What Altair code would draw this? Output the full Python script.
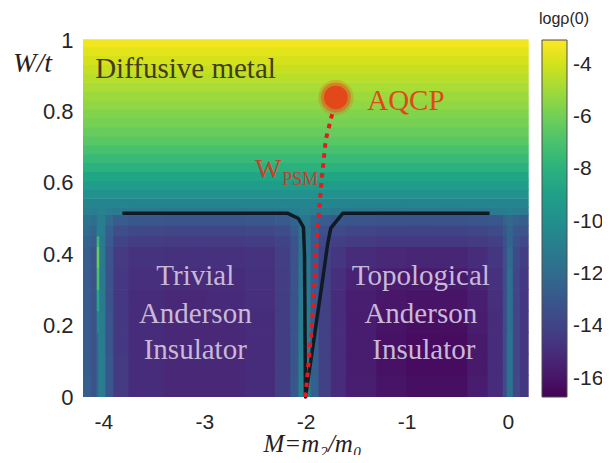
import altair as alt
import pandas as pd

# ---------------- data ----------------
# heat map, lower part (W from 0 to 0.53): variable-width columns in M, rows in W
M_EDGES = [-4.2, -4.13, -4.065, -4.04, -3.98, -3.9, -3.75, -3.4, -3.0, -2.6, -2.3, -2.15, -2.07,
           -1.95, -1.87, -1.75, -1.6, -1.3, -1.0, -0.7, -0.4, -0.2, -0.05, -0.01, 0.05, 0.12, 0.2]
W_EDGES = [0.0, 0.06, 0.12, 0.18, 0.24, 0.30, 0.36, 0.42, 0.45, 0.48, 0.51, 0.53]
GRID = [  # rows from bottom (W=0) to top, values of log rho(0)
    [-12.6, -13.2, -11.8, -11.0, -13.0, -14.4, -15.0, -15.2, -15.2, -15.0, -14.3, -13.0, -10.8, -12.6, -14.1, -15.0, -15.6, -16.0, -16.2, -16.2, -15.7, -15.0, -13.6, -11.6, -13.8, -14.6],
    [-12.7, -13.3, -11.8, -11.0, -13.0, -14.4, -15.0, -15.2, -15.2, -15.0, -14.3, -13.1, -10.9, -12.7, -14.1, -15.0, -15.7, -16.1, -16.3, -16.3, -15.8, -15.0, -13.6, -11.6, -13.9, -14.6],
    [-12.8, -13.3, -11.6, -11.1, -13.1, -14.5, -15.0, -15.2, -15.2, -15.0, -14.3, -13.1, -11.0, -12.8, -14.1, -15.0, -15.7, -16.1, -16.3, -16.3, -15.8, -15.0, -13.6, -11.6, -13.9, -14.6],
    [-12.8, -13.3, -10.5, -11.1, -13.1, -14.5, -15.0, -15.2, -15.2, -15.0, -14.3, -13.2, -11.1, -12.8, -14.1, -15.0, -15.7, -16.0, -16.2, -16.2, -15.7, -15.0, -13.6, -11.7, -13.9, -14.6],
    [-12.8, -13.3, -8.5, -11.2, -13.2, -14.5, -15.0, -15.2, -15.1, -14.9, -14.3, -13.2, -11.2, -12.9, -14.1, -15.0, -15.6, -15.9, -16.0, -16.0, -15.6, -14.9, -13.6, -11.7, -13.9, -14.6],
    [-12.8, -13.3, -7.0, -11.2, -13.2, -14.5, -14.9, -15.0, -15.0, -14.8, -14.3, -13.3, -11.3, -12.9, -14.1, -14.9, -15.4, -15.7, -15.8, -15.8, -15.4, -14.8, -13.6, -11.8, -13.9, -14.5],
    [-12.6, -13.1, -6.2, -11.2, -13.1, -14.4, -14.7, -14.8, -14.8, -14.7, -14.2, -13.3, -11.4, -12.9, -14.0, -14.6, -15.0, -15.2, -15.3, -15.3, -15.0, -14.6, -13.5, -12.0, -13.7, -14.3],
    [-12.3, -12.8, -7.5, -11.2, -12.9, -14.0, -14.3, -14.4, -14.4, -14.3, -14.0, -13.2, -11.5, -12.8, -13.8, -14.2, -14.4, -14.5, -14.5, -14.5, -14.4, -14.2, -13.4, -12.3, -13.4, -13.8],
    [-11.9, -12.3, -11.0, -11.1, -12.6, -13.5, -13.8, -13.9, -13.9, -13.8, -13.6, -12.9, -11.5, -12.6, -13.4, -13.7, -13.9, -14.0, -14.0, -14.0, -13.9, -13.7, -13.0, -12.3, -13.0, -13.3],
    [-11.5, -11.7, -11.2, -11.0, -12.0, -12.8, -13.0, -13.1, -13.1, -13.0, -12.9, -12.4, -11.4, -12.2, -12.8, -13.0, -13.1, -13.2, -13.2, -13.2, -13.1, -13.0, -12.5, -12.1, -12.5, -12.7],
    [-10.9, -11.0, -10.9, -10.8, -11.0, -11.1, -11.2, -11.2, -11.2, -11.2, -11.1, -11.0, -10.8, -11.0, -11.1, -11.2, -11.2, -11.2, -11.2, -11.2, -11.2, -11.1, -11.0, -10.9, -11.0, -11.1],
]
# heat map, upper part (diffusive metal): full-width strips
STRIP_EDGES = [0.53, 0.555, 0.58, 0.605, 0.63, 0.655, 0.68, 0.705, 0.73, 0.755, 0.78,
               0.805, 0.83, 0.855, 0.88, 0.905, 0.93, 0.955, 0.98, 1.0]
STRIP_VALUES = [-10.5, -9.8, -9.2, -8.6, -8.0, -7.5, -7.0, -6.55, -6.2, -5.9,
                -5.6, -5.3, -5.05, -4.8, -4.5, -4.2, -3.9, -3.6, -3.3]

# phase boundary (black line)
BOUNDARY_M = [-3.81, -2.18, -2.07, -2.02, -2.01, -2.0, -1.83, -1.78, -1.75, -1.63, -0.18]
BOUNDARY_W = [0.515, 0.515, 0.50, 0.475, 0.40, 0.0, 0.33, 0.43, 0.473, 0.515, 0.515]
# W_PSM (red dotted line)
PSM_M = [-2.0, -1.94, -1.88, -1.84, -1.80, -1.73]
PSM_W = [0.0, 0.19, 0.47, 0.61, 0.72, 0.80]
# AQCP point
AQCP_M = [-1.70]
AQCP_W = [0.839]

X_TICKS = [-4, -3, -2, -1, 0]
Y_TICKS = [0, 0.2, 0.4, 0.6, 0.8, 1]
C_TICKS = [-16, -14, -12, -10, -8, -6, -4]
C_DOMAIN = [-16.7, -3.05]

# ---------------- tables ----------------
cells = []
for i, row in enumerate(GRID):
    for j, v in enumerate(row):
        cells.append(dict(m0=M_EDGES[j], m1=M_EDGES[j + 1], w0=W_EDGES[i], w1=W_EDGES[i + 1], v=v))
for i, v in enumerate(STRIP_VALUES):
    cells.append(dict(m0=M_EDGES[0], m1=M_EDGES[-1], w0=STRIP_EDGES[i], w1=STRIP_EDGES[i + 1], v=v))
cells = pd.DataFrame(cells)

boundary = pd.DataFrame(dict(M=BOUNDARY_M, W=BOUNDARY_W, i=range(len(BOUNDARY_M))))
psm = pd.DataFrame(dict(M=PSM_M, W=PSM_W, i=range(len(PSM_M))))
aqcp = pd.DataFrame(dict(M=AQCP_M, W=AQCP_W))

xs = alt.Scale(domain=[-4.2, 0.2], nice=False, zero=False)
ys = alt.Scale(domain=[0, 1], nice=False, zero=False)
cs = alt.Scale(scheme="viridis", domain=C_DOMAIN, nice=False, zero=False)

SANS = "Liberation Sans"
SERIF = "Liberation Serif"

x_axis = alt.Axis(values=X_TICKS, labelExpr="'' + datum.value", title="M=m₂/m₀",
                  titleFont=SERIF, titleFontStyle="italic", titleFontWeight="normal", titleFontSize=25,
                  titleColor="#2b1d1d", titleX=229, titleY=54, titleAlign="center",
                  titleBaseline="alphabetic", labelFont=SANS, labelFontSize=21, labelColor="#262626",
                  labelPadding=14, ticks=False, tickSize=0, domain=False, grid=False)
y_axis = alt.Axis(values=Y_TICKS, labelExpr="'' + datum.value", title="W/t",
                  titleFont=SERIF, titleFontStyle="italic", titleFontWeight="normal", titleFontSize=28,
                  titleColor="#2b1d1d", titleAngle=0, titleX=-51, titleY=31, titleAlign="center",
                  titleBaseline="alphabetic", labelFont=SANS, labelFontSize=22, labelColor="#262626",
                  labelPadding=10, ticks=False, tickSize=0, domain=False, grid=False)

legend = alt.Legend(type="gradient", title=None, orient="none", legendX=459, legendY=0,
                    direction="vertical", gradientLength=357, gradientThickness=25,
                    gradientStrokeColor="#4d4d4d", gradientStrokeWidth=1, values=C_TICKS,
                    labelExpr="'' + datum.value", labelFont=SANS, labelFontSize=21,
                    labelColor="#262626", labelOffset=6, labelOverlap=False)

# cells are widened by under a pixel (x2Offset / y2Offset) so no hairline seams show
heat = alt.Chart(cells).mark_rect(x2Offset=0.7, y2Offset=-0.7).encode(
    x=alt.X("m0:Q", scale=xs, axis=x_axis),
    x2="m1:Q",
    y=alt.Y("w0:Q", scale=ys, axis=y_axis),
    y2="w1:Q",
    color=alt.Color("v:Q", scale=cs, legend=legend),
)

line_b = alt.Chart(boundary).mark_line(color="#0f1a24", strokeWidth=3.5, strokeJoin="round").encode(
    x=alt.X("M:Q", scale=xs), y=alt.Y("W:Q", scale=ys), order="i:Q")

line_r = alt.Chart(psm).mark_line(color="#e8191e", strokeWidth=4, strokeDash=[4.5, 5.5],
                                  strokeCap="butt").encode(
    x=alt.X("M:Q", scale=xs), y=alt.Y("W:Q", scale=ys), order="i:Q")

halo1 = alt.Chart(aqcp).mark_circle(color="#e8561c", opacity=0.25, size=1250).encode(
    x=alt.X("M:Q", scale=xs), y=alt.Y("W:Q", scale=ys))
halo2 = alt.Chart(aqcp).mark_circle(color="#e5501b", opacity=0.5, size=900).encode(
    x=alt.X("M:Q", scale=xs), y=alt.Y("W:Q", scale=ys))
core = alt.Chart(aqcp).mark_circle(color="#e2481a", opacity=1, size=560).encode(
    x=alt.X("M:Q", scale=xs), y=alt.Y("W:Q", scale=ys))

labels = pd.DataFrame([
    dict(M=-4.08, W=0.894, t="Diffusive metal", c="#433c16", s=29, a="left"),
    dict(M=-1.39, W=0.804, t="AQCP", c="#e0481b", s=29, a="left"),
    dict(M=-2.50, W=0.613, t="W", c="#c8402e", s=28, a="left"),
    dict(M=-2.23, W=0.594, t="PSM", c="#c8402e", s=18, a="left"),
    dict(M=-3.09, W=0.314, t="Trivial", c="#c8b9d6", s=29, a="center"),
    dict(M=-3.09, W=0.207, t="Anderson", c="#c8b9d6", s=29, a="center"),
    dict(M=-3.09, W=0.106, t="Insulator", c="#c8b9d6", s=29, a="center"),
    dict(M=-0.86, W=0.314, t="Topological", c="#c8b9d6", s=29, a="center"),
    dict(M=-0.86, W=0.207, t="Anderson", c="#c8b9d6", s=29, a="center"),
    dict(M=-0.83, W=0.106, t="Insulator", c="#c8b9d6", s=29, a="center"),
])

text_layers = []
for _, r in labels.iterrows():
    text_layers.append(
        alt.Chart(pd.DataFrame([r])).mark_text(font=SERIF, fontSize=r["s"], color=r["c"],
                                               align=r["a"], baseline="alphabetic").encode(
            x=alt.X("M:Q", scale=xs), y=alt.Y("W:Q", scale=ys), text="t:N"))

cb_title = alt.Chart(pd.DataFrame(dict(t=["logρ(0)"]))).mark_text(
    font=SANS, fontSize=16, color="#262626", align="center", baseline="alphabetic").encode(
    x=alt.value(481), y=alt.value(-16), text="t:N")

chart = alt.layer(heat, line_b, line_r, halo1, halo2, core, *text_layers, cb_title).properties(
    width=445, height=357,
    autosize=alt.AutoSizeParams(type="none"),
    padding={"left": 75, "top": 32, "right": 74, "bottom": 58},
).configure_view(stroke=None)

chart.save("out.html", embed_options={"renderer": "svg", "actions": False})
